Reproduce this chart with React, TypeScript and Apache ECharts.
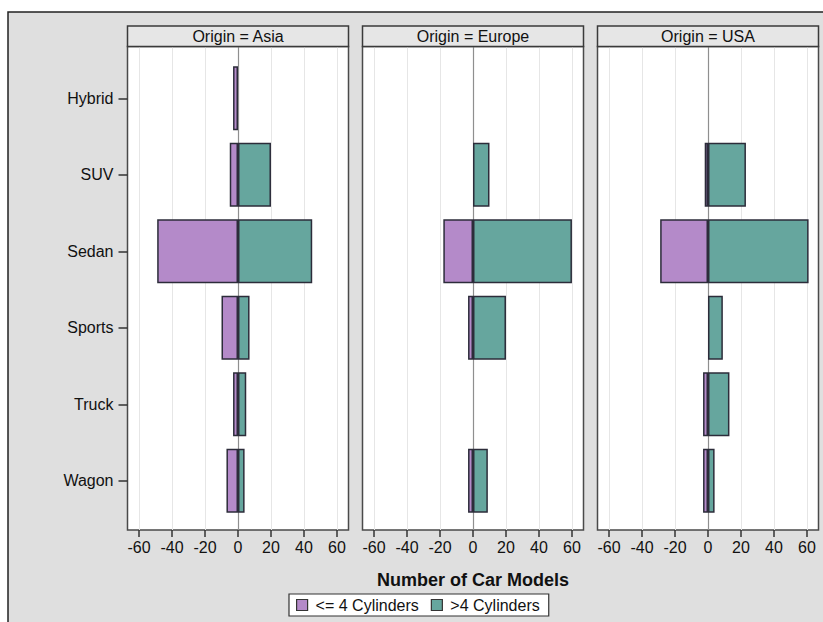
import React, { useEffect, useRef } from "react";
import * as echarts from "echarts";

const categories = ["Hybrid", "SUV", "Sedan", "Sports", "Truck", "Wagon"];
const origins = ["Asia", "Europe", "USA"];
const seriesNames = ["<= 4 Cylinders", ">4 Cylinders"];

// counts of car models (<= 4 cylinders drawn to the left as negatives)
const asiaLe4 = [3, 5, 49, 10, 3, 7];
const asiaGt4 = [0, 20, 45, 7, 5, 4];
const europeLe4 = [0, 0, 18, 3, 0, 3];
const europeGt4 = [0, 10, 60, 20, 0, 9];
const usaLe4 = [0, 2, 29, 0, 3, 3];
const usaGt4 = [0, 23, 61, 9, 13, 4];

const tickValues = [-60, -40, -20, 0, 20, 40, 60];
const axisMin = -67;
const axisMax = 67;

const FONT = "'Liberation Sans', Arial, Helvetica, sans-serif";
const FS = 16;
const PURPLE = "#b48ac9";
const TEAL = "#66a69e";
const BAR_BORDER = "#2c2c3a";

export default function App() {
  const ref = useRef<HTMLDivElement>(null);

  useEffect(() => {
    if (!ref.current) return;
    const chart = echarts.init(ref.current, null, { renderer: "svg" });

    const le4 = [asiaLe4, europeLe4, usaLe4];
    const gt4 = [asiaGt4, europeGt4, usaGt4];

    const panelLeft0 = 127.5;
    const panelStep = 235;
    const panelWidth = 221;
    const frameTop = 46.5;
    const frameBottom = 530;
    const barTop = 60;
    const barHeight = 459;

    const grids: any[] = [];
    const xAxes: any[] = [];
    const yAxes: any[] = [];
    const series: any[] = [];
    const graphics: any[] = [];

    graphics.push({
      type: "rect",
      z: -10,
      shape: { x: 8, y: 12, width: 840, height: 640 },
      style: { fill: "#dfdfdf", stroke: "#222", lineWidth: 1.5 },
    });

    origins.forEach((origin, i) => {
      const left = panelLeft0 + panelStep * i;
      grids.push({
        left,
        top: frameTop,
        width: panelWidth,
        height: frameBottom - frameTop,
        show: true,
        backgroundColor: "#ffffff",
        borderColor: "#4a4a4a",
        borderWidth: 1.5,
      });
      grids.push({
        left,
        top: barTop,
        width: panelWidth,
        height: barHeight,
      });

      xAxes.push({
        type: "value",
        gridIndex: 2 * i,
        min: axisMin,
        max: axisMax,
        position: "bottom",
        axisLine: { show: false, onZero: false },
        splitLine: { show: false },
        axisTick: {
          show: true,
          customValues: tickValues,
          length: 7,
          lineStyle: { color: "#333", width: 1.5 },
        },
        axisLabel: {
          customValues: tickValues,
          fontSize: FS,
          fontFamily: FONT,
          color: "#111",
          margin: 9,
        },
      });
      xAxes.push({
        type: "value",
        gridIndex: 2 * i + 1,
        min: axisMin,
        max: axisMax,
        show: false,
      });

      yAxes.push({
        type: "value",
        gridIndex: 2 * i,
        min: 0,
        max: 1,
        show: false,
      });
      yAxes.push({
        type: "category",
        gridIndex: 2 * i + 1,
        data: categories,
        inverse: true,
        position: "left",
        axisLine: { show: false, onZero: false },
        splitLine: { show: false },
        axisTick: {
          show: i === 0,
          alignWithLabel: true,
          length: 9,
          lineStyle: { color: "#333", width: 1.5 },
        },
        axisLabel: {
          show: i === 0,
          fontSize: FS,
          fontFamily: FONT,
          color: "#111",
          margin: 14,
        },
      });

      series.push({
        type: "line",
        name: "frame" + i,
        xAxisIndex: 2 * i,
        yAxisIndex: 2 * i,
        data: [],
        z: 1,
        silent: true,
        markLine: {
          silent: true,
          z: 1,
          symbol: ["none", "none"],
          label: { show: false },
          animation: false,
          data: tickValues.map((v) => ({
            xAxis: v,
            lineStyle: {
              color: v === 0 ? "#8f8f8f" : "#e6e6e6",
              width: v === 0 ? 1.2 : 1,
              type: "solid",
            },
          })),
        },
      });

      series.push({
        type: "bar",
        name: seriesNames[0],
        xAxisIndex: 2 * i + 1,
        yAxisIndex: 2 * i + 1,
        stack: "s" + i,
        barWidth: 64,
        z: 3,
        data: le4[i].map((v) => (v === 0 ? "-" : -v)),
        itemStyle: { color: PURPLE, borderColor: BAR_BORDER, borderWidth: 1.5 },
      });
      series.push({
        type: "bar",
        name: seriesNames[1],
        xAxisIndex: 2 * i + 1,
        yAxisIndex: 2 * i + 1,
        stack: "s" + i,
        barWidth: 64,
        z: 3,
        data: gt4[i].map((v) => (v === 0 ? "-" : v)),
        itemStyle: { color: TEAL, borderColor: BAR_BORDER, borderWidth: 1.5 },
      });

      graphics.push({
        type: "rect",
        z: 5,
        shape: { x: left, y: 26, width: panelWidth, height: frameTop - 26 },
        style: { fill: "#e6e6e6", stroke: "#3a3a3a", lineWidth: 1.5 },
      });
      graphics.push({
        type: "text",
        z: 6,
        x: left + panelWidth / 2,
        y: (26 + frameTop) / 2 + 0.5,
        style: {
          text: "Origin = " + origin,
          fontSize: FS,
          fontFamily: FONT,
          fill: "#111",
          align: "center",
          verticalAlign: "middle",
        },
      });
    });

    graphics.push({
      type: "text",
      z: 6,
      x: panelLeft0 + (panelStep * 2 + panelWidth) / 2,
      y: 580,
      style: {
        text: "Number of Car Models",
        fontSize: 18,
        fontWeight: "bold",
        fontFamily: FONT,
        fill: "#111",
        align: "center",
        verticalAlign: "middle",
      },
    });

    chart.setOption({
      animation: false,
      backgroundColor: "#ffffff",
      textStyle: { fontFamily: FONT },
      grid: grids,
      xAxis: xAxes,
      yAxis: yAxes,
      series,
      graphic: graphics,
      legend: {
        data: seriesNames,
        left: 289,
        top: 594,
        orient: "horizontal",
        padding: [3, 9, 3, 7],
        itemGap: 12,
        itemWidth: 11,
        itemHeight: 11,
        icon: "rect",
        borderColor: "#333",
        borderWidth: 1.2,
        backgroundColor: "#ffffff",
        selectedMode: false,
        itemStyle: { borderColor: "#333", borderWidth: 1.2 },
        textStyle: { fontSize: FS, fontFamily: FONT, color: "#111", padding: [0, 0, 0, 3] },
      },
    });

    return () => chart.dispose();
  }, []);

  return (
    <div
      ref={ref}
      style={{ position: "fixed", left: 0, top: 0, width: 823, height: 622 }}
    />
  );
}
